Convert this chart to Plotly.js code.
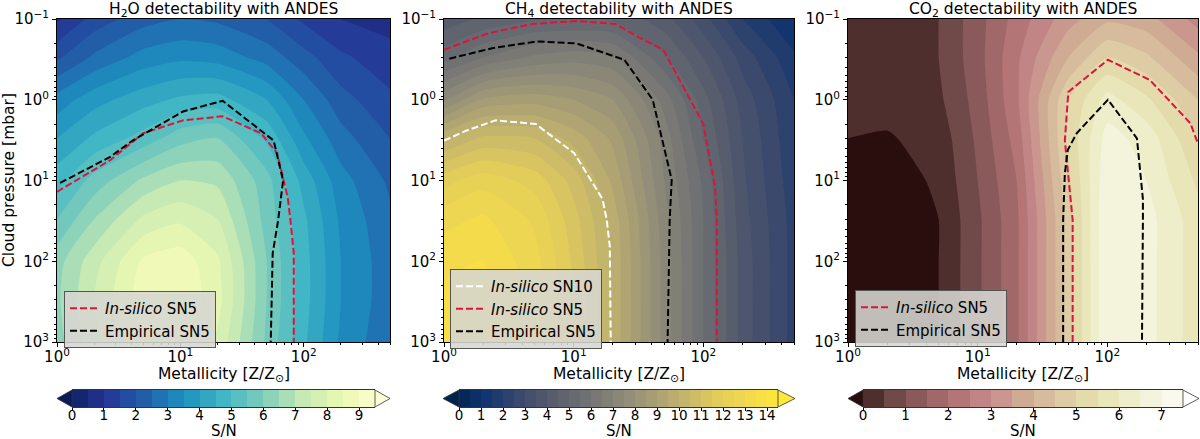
<!DOCTYPE html>
<html>
<head>
<meta charset="utf-8">
<script src="https://cdn.plot.ly/plotly-3.0.1.min.js"></script>
<style>body{margin:0;background:#fff} #fig{width:1200px;height:439px}</style>
</head>
<body>
<div id="fig"></div>
<script>
// grid of the simulations
var metallicity = [1, 2, 5, 10, 20, 50, 100, 200, 500];
var pressure = [0.1, 0.3, 1, 3, 10, 30, 100, 300, 1000];

// S/N maps, one row per pressure
var snH2O = [
  [0.9, 1.7, 2.3, 2.5, 2.4, 2.0, 1.4, 1.0, 0.8],
  [1.9, 2.6, 3.2, 3.4, 3.3, 2.8, 2.2, 1.6, 1.2],
  [3.2, 3.8, 4.3, 4.6, 4.7, 4.0, 3.0, 2.2, 1.6],
  [4.0, 4.6, 5.2, 5.8, 6.0, 4.9, 3.6, 2.7, 2.0],
  [4.8, 5.7, 6.6, 7.0, 6.9, 5.7, 4.3, 3.2, 2.4],
  [5.5, 6.5, 7.6, 7.9, 7.5, 5.8, 4.6, 3.4, 2.6],
  [6.3, 7.3, 8.6, 8.8, 8.1, 6.0, 4.7, 3.5, 2.7],
  [6.4, 7.5, 8.8, 8.9, 8.2, 6.0, 4.7, 3.5, 2.7],
  [6.3, 7.3, 8.4, 8.5, 7.9, 5.9, 4.6, 3.4, 2.6]
];
var snCH4 = [
  [4.2, 4.6, 4.9, 4.95, 4.9, 4.2, 3.2, 2.0, 1.0],
  [5.3, 6.0, 6.6, 6.8, 6.6, 5.1, 4.0, 2.8, 1.6],
  [7.4, 8.6, 8.8, 8.5, 8.0, 6.3, 4.7, 3.3, 2.0],
  [9.9, 10.6, 10.5, 9.8, 8.9, 6.8, 5.0, 3.5, 2.1],
  [11.8, 12.3, 11.8, 10.8, 9.4, 7.0, 5.4, 3.6, 2.2],
  [12.8, 13.1, 12.4, 11.2, 9.8, 7.2, 5.5, 3.7, 2.3],
  [13.4, 13.5, 12.7, 11.4, 9.9, 7.3, 5.5, 3.8, 2.3],
  [13.6, 13.6, 12.8, 11.5, 9.9, 7.3, 5.5, 3.8, 2.3],
  [13.5, 13.5, 12.7, 11.4, 9.9, 7.3, 5.5, 3.8, 2.3]
];
var snCO2 = [
  [0.2, 0.25, 0.5, 1.3, 2.2, 3.3, 3.9, 3.7, 2.8],
  [0.2, 0.25, 0.5, 1.3, 2.4, 4.0, 5.0, 4.6, 3.6],
  [0.15, 0.2, 0.4, 1.2, 2.4, 5.0, 6.2, 5.6, 4.5],
  [0.0, -0.05, 0.2, 1.1, 2.2, 5.1, 6.7, 6.3, 5.0],
  [-0.3, -0.3, 0.1, 1.0, 2.0, 4.9, 6.9, 6.5, 5.4],
  [-0.3, -0.3, 0.0, 0.9, 1.9, 4.7, 7.0, 6.7, 5.7],
  [-0.3, -0.3, 0.0, 0.9, 1.9, 4.7, 7.0, 6.7, 5.7],
  [-0.3, -0.3, 0.0, 0.9, 1.9, 4.7, 7.0, 6.7, 5.7],
  [-0.3, -0.3, 0.0, 0.9, 1.9, 4.7, 7.0, 6.7, 5.7]
];

// detection thresholds (metallicity, pressure)
var h2oSilicoZ = [1, 2.7, 5, 10.5, 22, 45, 61, 74, 78, 83, 83];
var h2oSilicoP = [13.8, 5.6, 2.6, 1.8, 1.6, 2.6, 4.6, 16, 31, 80, 1000];
var h2oEmpZ = [1.06, 2.7, 4.1, 10.5, 22, 57, 68, 62, 56, 54];
var h2oEmpP = [10.7, 5.1, 3.2, 1.4, 1.03, 3.2, 10, 31, 80, 1000];

var ch4Silico10Z = [1, 1.5, 2.5, 5.1, 10.1, 16.7, 18, 19, 19.3];
var ch4Silico10P = [3.2, 2.4, 1.8, 2.0, 4.6, 17, 31, 66, 1000];
var ch4SilicoZ = [1, 2.2, 4.8, 10.5, 21, 32, 49, 100, 123, 127, 127];
var ch4SilicoP = [0.24, 0.15, 0.115, 0.106, 0.115, 0.17, 0.24, 2.0, 12, 31, 1000];
var ch4EmpZ = [1.1, 2.35, 5.2, 10.5, 24.6, 40.7, 57, 55, 53];
var ch4EmpP = [0.31, 0.23, 0.19, 0.2, 0.32, 1.0, 9.8, 31, 1000];

var co2SilicoZ = [54, 54, 47, 50, 101, 213, 436, 500];
var co2SilicoP = [1000, 31, 3.2, 0.8, 0.32, 0.57, 1.95, 3.5];
var co2EmpZ = [45.6, 45.6, 47, 49.5, 58, 101, 169, 188, 188, 185];
var co2EmpP = [1000, 31, 8.2, 4.2, 2.6, 1.0, 3.0, 17, 31, 1000];

var ticksH2O = [0, 1, 2, 3, 4, 5, 6, 7, 8, 9];
var ticksCH4 = [0, 1, 2, 3, 4, 5, 6, 7, 8, 9, 10, 11, 12, 13, 14];
var ticksCO2 = [0, 1, 2, 3, 4, 5, 6, 7];

var ylgnbu = [[0, '#081d58'], [0.125, '#253494'], [0.25, '#225ea8'], [0.375, '#1d91c0'],
  [0.5, '#41b6c4'], [0.625, '#7fcdbb'], [0.75, '#c7e9b4'], [0.875, '#edf8b1'], [1, '#ffffd9']];
var cividis = [[0, '#00224e'], [0.1, '#123570'], [0.2, '#3b496c'], [0.3, '#575d6d'],
  [0.4, '#707173'], [0.5, '#8a8779'], [0.6, '#a69d75'], [0.7, '#c4b56c'],
  [0.8, '#e2cd5b'], [0.9, '#f3db4c'], [1, '#fee838']];
var pink = [[0, '#2a0d0d'], [0.1, '#654242'], [0.2, '#8f5d5d'], [0.3, '#b07272'],
  [0.4, '#c68b8b'], [0.5, '#d0ab93'], [0.6, '#dac6a1'], [0.7, '#e4deae'],
  [0.8, '#ededc6'], [0.9, '#f6f6e4'], [1, '#ffffff']];

var W = 1200, H = 439;
function fx(p) { return p / W; }
function fy(p) { return 1 - p / H; }
var FONT = 'DejaVu Sans, sans-serif';
var RED = '#dc143c';
var DASH = '7px,3px';

var panels = [
  {title: 'H<sub>2</sub>O detectability with ANDES', z: snH2O, cs: ylgnbu, top: 9.5, ticks: ticksH2O,
    dom: [57, 390], cb: [72, 375], tips: [57, 390], leg: [64, 291],
    lines: [
      {x: h2oSilicoZ, y: h2oSilicoP, c: RED, name: '<i>In-silico</i> SN5'},
      {x: h2oEmpZ, y: h2oEmpP, c: 'black', name: 'Empirical SN5'}]},
  {title: 'CH<sub>4</sub> detectability with ANDES', z: snCH4, cs: cividis, top: 14.5, ticks: ticksCH4,
    dom: [444, 794], cb: [459, 778], tips: [443, 795], leg: [450, 269],
    lines: [
      {x: ch4Silico10Z, y: ch4Silico10P, c: 'white', name: '<i>In-silico</i> SN10'},
      {x: ch4SilicoZ, y: ch4SilicoP, c: RED, name: '<i>In-silico</i> SN5'},
      {x: ch4EmpZ, y: ch4EmpP, c: 'black', name: 'Empirical SN5'}]},
  {title: 'CO<sub>2</sub> detectability with ANDES', z: snCO2, cs: pink, top: 7.5, ticks: ticksCO2,
    dom: [848, 1198], cb: [863, 1183], tips: [848, 1199], leg: [855, 290],
    lines: [
      {x: co2SilicoZ, y: co2SilicoP, c: RED, name: '<i>In-silico</i> SN5'},
      {x: co2EmpZ, y: co2EmpP, c: 'black', name: 'Empirical SN5'}]}
];

var minorX = [], minorY = [];
[1, 10, 100].forEach(function (d) { for (var k = 2; k <= 9; k++) if (d * k <= 500) minorX.push(d * k); });
[0.1, 1, 10, 100].forEach(function (d) { for (var k = 2; k <= 9; k++) minorY.push(d * k); });

var traces = [];
var layout = {
  width: W, height: H,
  margin: {l: 0, r: 0, t: 0, b: 0},
  paper_bgcolor: 'white', plot_bgcolor: 'white',
  font: {family: FONT, size: 14, color: 'black'},
  annotations: [], shapes: []
};

function label(text, x, y, extra) {
  var a = {text: text, xref: 'paper', yref: 'paper', showarrow: false,
    x: fx(x), y: fy(y), xanchor: 'center', yanchor: 'middle', font: {size: 15.5}};
  for (var k in extra) a[k] = extra[k];
  layout.annotations.push(a);
}

var CB_T = 390, CB_B = 407;

panels.forEach(function (p, i) {
  var n = i + 1, m = i + 4;
  var xa = 'x' + n, ya = 'y' + n;

  traces.push({
    type: 'contour', x: metallicity, y: pressure, z: p.z,
    xaxis: xa, yaxis: ya, colorscale: p.cs, zmin: -0.25, zmax: p.top + 0.25,
    contours: {start: 0, end: p.top, size: 0.5, coloring: 'fill', showlines: false},
    line: {width: 0, smoothing: 0.6}, showscale: false, hoverinfo: 'skip'
  });

  var legName = n === 1 ? 'legend' : 'legend' + n;
  p.lines.forEach(function (l) {
    traces.push({
      type: 'scatter', mode: 'lines', x: l.x, y: l.y, xaxis: xa, yaxis: ya,
      line: {color: l.c, width: 2, dash: DASH}, name: l.name, legend: legName, hoverinfo: 'skip'
    });
  });
  layout[legName] = {
    x: fx(p.leg[0]), y: fy(p.leg[1]), xanchor: 'left', yanchor: 'top',
    xref: 'paper', yref: 'paper',
    bgcolor: 'rgba(214,214,210,0.88)', bordercolor: '#555', borderwidth: 1,
    font: {size: 15, family: FONT}, tracegroupgap: 0
  };

  // colour bar as its own little axis
  var edges = [], mids = [];
  for (var v = 0; v <= p.top + 1e-9; v += 0.5) edges.push(v);
  for (var k = 1; k < edges.length; k++) mids.push(edges[k] - 0.25);
  traces.push({
    type: 'heatmap', x: edges, y: [0, 1], z: [mids], colorscale: p.cs,
    zmin: -0.25, zmax: p.top + 0.25, showscale: false,
    xaxis: 'x' + m, yaxis: 'y' + m, hoverinfo: 'skip'
  });

  layout['xaxis' + n] = {
    domain: [fx(p.dom[0]), fx(p.dom[1])], anchor: ya, type: 'log', range: [0, Math.log10(500)],
    showline: true, mirror: true, linecolor: 'black', linewidth: 1,
    ticks: 'outside', ticklen: 4, tickwidth: 1, tickcolor: 'black', ticklabelstandoff: -3,
    tickvals: [1, 10, 100], ticktext: ['10<sup>0</sup>', '10<sup>1</sup>', '10<sup>2</sup>'],
    tickfont: {size: 15}, showgrid: false, zeroline: false,
    minor: {ticks: 'outside', ticklen: 2, tickwidth: 0.8, tickcolor: 'black', tickvals: minorX, showgrid: false}
  };
  layout['yaxis' + n] = {
    domain: [fy(342), fy(19)], anchor: xa, type: 'log', range: [3, -1],
    showline: true, mirror: true, linecolor: 'black', linewidth: 1,
    ticks: 'outside', ticklen: 4, tickwidth: 1, tickcolor: 'black',
    tickvals: [0.1, 1, 10, 100, 1000],
    ticktext: ['10<sup>\u22121</sup>', '10<sup>0</sup>', '10<sup>1</sup>', '10<sup>2</sup>', '10<sup>3</sup>'],
    tickfont: {size: 15}, showgrid: false, zeroline: false,
    minor: {ticks: 'outside', ticklen: 2, tickwidth: 0.8, tickcolor: 'black', tickvals: minorY, showgrid: false}
  };

  layout['xaxis' + m] = {
    domain: [fx(p.cb[0]), fx(p.cb[1])], anchor: 'y' + m, range: [0, p.top],
    showline: true, mirror: true, linecolor: '#333', linewidth: 0.8,
    ticks: 'outside', ticklen: 3, tickwidth: 0.8, tickcolor: 'black', ticklabelstandoff: -7,
    tickvals: p.ticks, tickfont: {size: 13.5}, showgrid: false, zeroline: false
  };
  layout['yaxis' + m] = {
    domain: [fy(CB_B), fy(CB_T)], anchor: 'x' + m, range: [0, 1],
    showticklabels: false, ticks: '', showgrid: false, zeroline: false, showline: false
  };

  // extend arrows
  var lo = p.cs[0][1], hi = p.cs[p.cs.length - 1][1];
  var midY = (CB_T + CB_B) / 2;
  layout.shapes.push({
    type: 'path', xref: 'paper', yref: 'paper', fillcolor: lo, line: {color: '#333', width: 0.8},
    path: 'M' + fx(p.cb[0]) + ',' + fy(CB_T) + ' L' + fx(p.tips[0]) + ',' + fy(midY) +
      ' L' + fx(p.cb[0]) + ',' + fy(CB_B) + ' Z'
  });
  layout.shapes.push({
    type: 'path', xref: 'paper', yref: 'paper', fillcolor: hi, line: {color: '#333', width: 0.8},
    path: 'M' + fx(p.cb[1]) + ',' + fy(CB_T) + ' L' + fx(p.tips[1]) + ',' + fy(midY) +
      ' L' + fx(p.cb[1]) + ',' + fy(CB_B) + ' Z'
  });

  var cx = (p.dom[0] + p.dom[1]) / 2;
  label(p.title, cx, 10);
  label('Metallicity [Z/Z<sub>\u2299</sub>]', cx, 375);
  label('S/N', (p.cb[0] + p.cb[1]) / 2, 431, {font: {size: 15}});
});

label('Cloud pressure [mbar]', 9, 180, {textangle: -90});

Plotly.newPlot('fig', traces, layout, {displayModeBar: false});
</script>
</body>
</html>
